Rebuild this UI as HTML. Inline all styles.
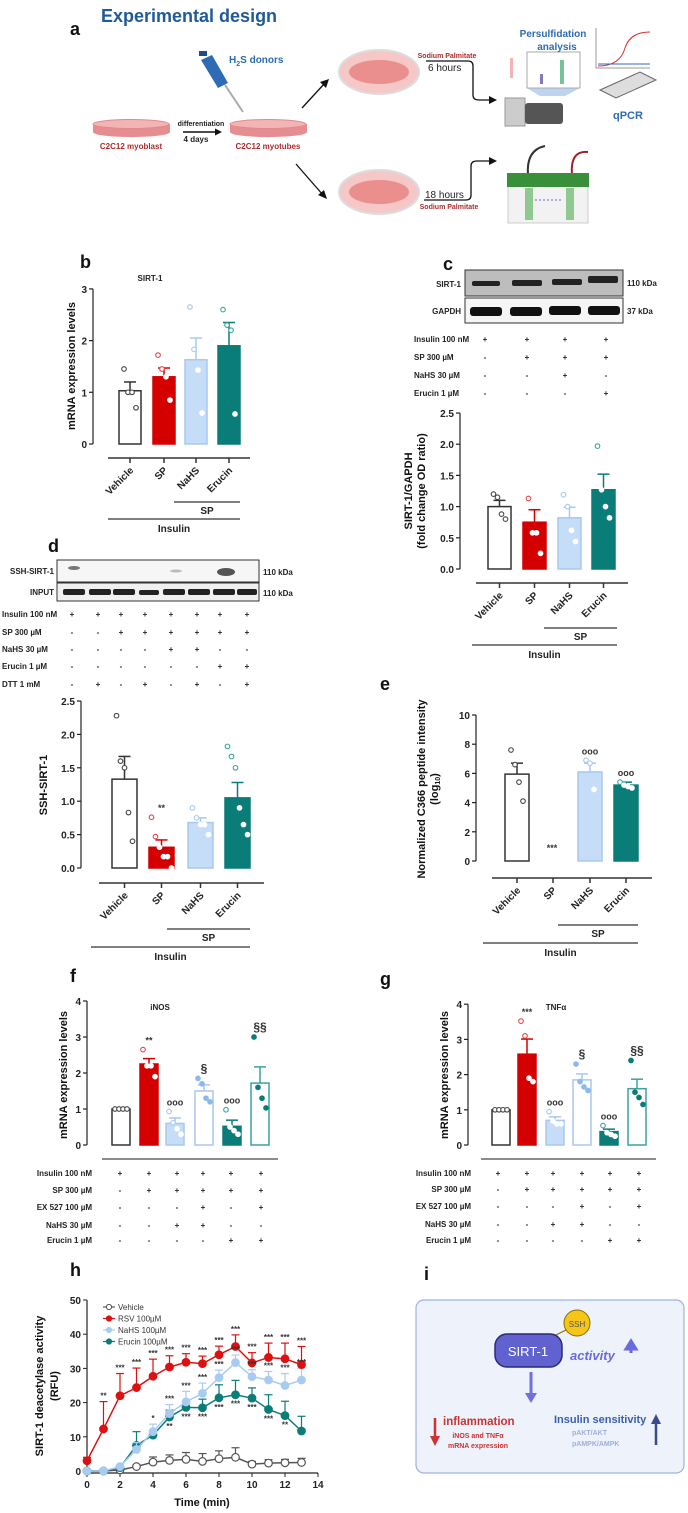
<!DOCTYPE html>
<html><head><meta charset="utf-8"><style>
html,body{margin:0;padding:0;background:#fff;}
svg{display:block;font-family:"Liberation Sans",Arial,sans-serif;}
.t{font-size:8px;fill:#222;font-weight:bold;}
.tk{font-size:10px;font-weight:bold;fill:#222;}
.cat{font-size:10px;font-weight:bold;fill:#222;}
.lab{font-size:18px;font-weight:bold;fill:#111;}
.yt{font-size:11px;font-weight:bold;fill:#111;}
</style></head><body>
<svg id="fig" width="688" height="1513" viewBox="0 0 688 1513" xmlns="http://www.w3.org/2000/svg">
<!-- Panel a -->
<g>
<text x="70" y="35" class="lab">a</text>
<text x="101" y="22" font-size="18" font-weight="bold" fill="#1f5a9a">Experimental design</text>
<g>
<path d="M93 124 L93 132 A38 5 0 0 0 170 132 L170 124 Z" fill="#e68d92"/><ellipse cx="131" cy="124" rx="38" ry="4.5" fill="#f3b4b6" stroke="#e08a8e"/>
<text x="131" y="149" font-size="8" font-weight="bold" fill="#b22a2a" text-anchor="middle">C2C12 myoblast</text></g>
<text x="201" y="126" font-size="7" font-weight="bold" fill="#222" text-anchor="middle">differentiation</text>
<line x1="183" y1="132" x2="218" y2="132" stroke="#111" stroke-width="1.5"/><path d="M222 132 L215 128.5 L215 135.5 Z" fill="#111"/>
<text x="196" y="142" font-size="8" font-weight="bold" fill="#222" text-anchor="middle">4 days</text>
<g>
<path d="M230 124 L230 132 A38 5 0 0 0 307 132 L307 124 Z" fill="#e68d92"/><ellipse cx="268" cy="124" rx="38" ry="4.5" fill="#f3b4b6" stroke="#e08a8e"/>
<text x="268" y="149" font-size="8" font-weight="bold" fill="#b22a2a" text-anchor="middle">C2C12 myotubes</text></g>
<g>
<line x1="225" y1="85" x2="243" y2="112" stroke="#aaa" stroke-width="2"/>
<path d="M201 60 L212 55 L228 83 L218 88 Z" fill="#2d6bb5"/><rect x="199" y="51" width="8" height="5" fill="#1d4c8a"/></g>
<text x="229" y="63" font-size="10" font-weight="bold" fill="#2d6bb5">H<tspan font-size="7" dy="3">2</tspan><tspan dy="-3">S donors</tspan></text>
<line x1="302" y1="108" x2="325" y2="83" stroke="#111" stroke-width="1.3"/><path d="M329 79 L320 82 L326 88 Z" fill="#111"/>
<line x1="296" y1="164" x2="323" y2="195" stroke="#111" stroke-width="1.3"/><path d="M327 199 L318 195 L324 190 Z" fill="#111"/>
<g><ellipse cx="379" cy="72" rx="40" ry="22" fill="#f6c7c7" stroke="#ddd" stroke-width="2"/><ellipse cx="379" cy="72" rx="30" ry="12" fill="#e88080" opacity="0.8"/></g>
<text x="447" y="58" font-size="7" font-weight="bold" fill="#b22a2a" text-anchor="middle">Sodium Palmitate</text>
<text x="428" y="71" font-size="10" fill="#222">6 hours</text>
<path d="M426 61 L468 61 Q473 61 473 66 L473 95 Q473 100 479 100 L490 100" fill="none" stroke="#111" stroke-width="1.3"/><path d="M497 100 L489 96 L489 104 Z" fill="#111"/>
<g><rect x="505" y="98" width="20" height="28" fill="#ccc" stroke="#999"/><rect x="525" y="103" width="38" height="21" fill="#555" rx="3"/><rect x="510" y="58" width="3" height="20" fill="#f3b4b6"/><path d="M527 88 L580 88 L565 96 L540 96 Z" fill="#bcd4ee"/></g>
<g><rect x="527" y="52" width="53" height="36" fill="#fff" stroke="#aaa"/><rect x="540" y="74" width="3" height="10" fill="#8877bb"/><rect x="560" y="60" width="4" height="24" fill="#77c29b"/></g>
<text x="553" y="37" font-size="10" font-weight="bold" fill="#2d6bb5" text-anchor="middle">Persulfidation</text>
<text x="557" y="50" font-size="10" font-weight="bold" fill="#2d6bb5" text-anchor="middle">analysis</text>
<g><path d="M596 28 L596 68 L650 68" fill="none" stroke="#999"/><path d="M598 66 Q620 66 625 48 Q630 32 650 32" fill="none" stroke="#d33"/><line x1="598" y1="64" x2="650" y2="64" stroke="#36c"/></g>
<g><path d="M600 90 L640 72 L656 80 L616 98 Z" fill="#ddd" stroke="#666"/></g>
<text x="613" y="119" font-size="11" font-weight="bold" fill="#2d6bb5">qPCR</text>
<g><ellipse cx="379" cy="192" rx="40" ry="22" fill="#f6c7c7" stroke="#ddd" stroke-width="2"/><ellipse cx="379" cy="192" rx="30" ry="12" fill="#e88080" opacity="0.8"/></g>
<text x="425" y="198" font-size="10" fill="#222">18 hours</text>
<text x="449" y="209" font-size="7" font-weight="bold" fill="#b22a2a" text-anchor="middle">Sodium Palmitate</text>
<path d="M424 200 L466 200 Q471 200 471 195 L471 166 Q471 161 477 161 L490 161" fill="none" stroke="#111" stroke-width="1.3"/><path d="M497 161 L489 157 L489 165 Z" fill="#111"/>
<g><path d="M528 175 Q526 150 545 146" fill="none" stroke="#333" stroke-width="2"/><path d="M572 175 Q570 150 588 152" fill="none" stroke="#a0202a" stroke-width="2"/><rect x="508" y="186" width="80" height="37" fill="#f2f2f2" stroke="#ccc"/><rect x="507" y="173" width="82" height="14" fill="#3a8f3a"/><rect x="525" y="188" width="8" height="32" fill="#8fc98f"/><rect x="566" y="188" width="8" height="32" fill="#8fc98f"/><line x1="535" y1="200" x2="562" y2="200" stroke="#66c" stroke-dasharray="2,2"/></g>
</g>

<!-- panel labels and titles -->
<text x="80" y="268" class="lab">b</text>
<text x="150" y="281" font-size="8" font-weight="bold" fill="#222" text-anchor="middle">SIRT-1</text>
<text transform="translate(75,366) rotate(-90)" class="yt" text-anchor="middle">mRNA expression levels</text>

<text x="443" y="270" class="lab">c</text>
<g>
<rect x="465" y="270" width="158" height="26" fill="#bdbdbd" stroke="#333"/>
<rect x="465" y="298" width="158" height="25" fill="#f5f5f5" stroke="#333"/>
<rect x="472" y="281" width="28" height="5" rx="2" fill="#222"/><rect x="512" y="280" width="30" height="6" rx="2" fill="#222"/><rect x="552" y="279" width="30" height="6" rx="2" fill="#222"/><rect x="588" y="276" width="30" height="7" rx="2" fill="#222"/>
<rect x="470" y="307" width="32" height="9" rx="3" fill="#111"/><rect x="510" y="307" width="32" height="9" rx="3" fill="#111"/><rect x="549" y="306" width="32" height="9" rx="3" fill="#111"/><rect x="588" y="306" width="32" height="9" rx="3" fill="#111"/>
<text x="461" y="287" class="t" text-anchor="end" font-size="9">SIRT-1</text><text x="461" y="314" class="t" text-anchor="end" font-size="9">GAPDH</text>
<text x="627" y="286" class="t" font-size="9">110 kDa</text><text x="627" y="314" class="t" font-size="9">37 kDa</text></g>
<text transform="translate(412,491) rotate(-90)" class="yt" text-anchor="middle">SIRT-1/GAPDH</text>
<text transform="translate(425,491) rotate(-90)" class="yt" text-anchor="middle">(fold change OD ratio)</text>

<text x="48" y="552" class="lab">d</text>
<g>
<rect x="57" y="560" width="202" height="22" fill="#f6f6f6" stroke="#333"/>
<rect x="57" y="583" width="202" height="18" fill="#f0f0f0" stroke="#333"/>
<ellipse cx="74" cy="568" rx="6" ry="2" fill="#777"/><ellipse cx="176" cy="571" rx="6" ry="1.5" fill="#bbb"/><ellipse cx="226" cy="572" rx="9" ry="4" fill="#555"/>
<g fill="#222"><rect x="63" y="589" width="22" height="6" rx="2"/><rect x="89" y="589" width="22" height="6" rx="2"/><rect x="113" y="589" width="22" height="6" rx="2"/><rect x="139" y="590" width="20" height="5" rx="2"/><rect x="163" y="589" width="22" height="6" rx="2"/><rect x="188" y="589" width="22" height="6" rx="2"/><rect x="213" y="589" width="22" height="6" rx="2"/><rect x="237" y="589" width="20" height="6" rx="2"/></g>
<text x="54" y="574" class="t" text-anchor="end">SSH-SIRT-1</text><text x="54" y="595" class="t" text-anchor="end">INPUT</text>
<text x="263" y="575" class="t" font-size="9">110 kDa</text><text x="263" y="596" class="t" font-size="9">110 kDa</text></g>
<text transform="translate(47,785) rotate(-90)" class="yt" font-size="12" text-anchor="middle">SSH-SIRT-1</text>

<text x="380" y="690" class="lab">e</text>
<text transform="translate(425,789) rotate(-90)" class="yt" text-anchor="middle">Normalized C366 peptide intensity</text>
<text transform="translate(438,789) rotate(-90)" class="yt" text-anchor="middle">(log<tspan font-size="7" dy="2">10</tspan><tspan dy="-2">)</tspan></text>

<text x="70" y="982" class="lab">f</text>
<text x="160" y="1010" font-size="8" font-weight="bold" fill="#222" text-anchor="middle">iNOS</text>
<text transform="translate(67,1075) rotate(-90)" class="yt" font-size="10" text-anchor="middle">mRNA expression levels</text>

<text x="380" y="985" class="lab">g</text>
<text x="556" y="1010" font-size="8" font-weight="bold" fill="#222" text-anchor="middle">TNFα</text>
<text transform="translate(448,1075) rotate(-90)" class="yt" font-size="10" text-anchor="middle">mRNA expression levels</text>

<text x="70" y="1276" class="lab">h</text>
<text transform="translate(43,1386) rotate(-90)" class="yt" font-size="12" text-anchor="middle">SIRT-1 deacetylase activity</text>
<text transform="translate(58,1386) rotate(-90)" class="yt" font-size="12" text-anchor="middle">(RFU)</text>
<text x="202" y="1506" class="yt" font-size="12" text-anchor="middle">Time (min)</text>

<!-- Panel i -->
<g>
<text x="424" y="1280" class="lab">i</text>
<rect x="416" y="1300" width="268" height="173" rx="8" fill="#edf2fb" stroke="#9fb3df" stroke-width="1.2"/>
<line x1="552" y1="1337" x2="570" y2="1328" stroke="#8a7000" stroke-width="1.2"/>
<rect x="495" y="1334" width="67" height="33" rx="12" fill="#6161d0" stroke="#2a2a7a" stroke-width="1.5"/>
<text x="528" y="1356" font-size="13" fill="#fff" text-anchor="middle">SIRT-1</text>
<circle cx="577" cy="1323" r="13" fill="#f5c518" stroke="#8a7000"/>
<text x="577" y="1327" font-size="8" fill="#555" text-anchor="middle">SSH</text>
<text x="570" y="1360" font-size="13" font-weight="bold" font-style="italic" fill="#6a6ae0">activity</text>
<path d="M631 1347 L631 1353 M626 1349 L631 1341 L636 1349 Z" stroke="#6a6ae0" stroke-width="3" fill="#6a6ae0"/>
<path d="M531 1372 L531 1395" stroke="#7070dd" stroke-width="3"/><path d="M525 1393 L531 1403 L537 1393 Z" fill="#7070dd"/>
<path d="M435 1418 L435 1438" stroke="#cc3333" stroke-width="2.5"/><path d="M430 1436 L435 1446 L440 1436 Z" fill="#cc3333"/>
<text x="443" y="1425" font-size="11.5" font-weight="bold" fill="#cc3333">inflammation</text>
<text x="478" y="1438" font-size="7" font-weight="bold" fill="#cc3333" text-anchor="middle">iNOS and TNFα</text>
<text x="478" y="1448" font-size="7" font-weight="bold" fill="#cc3333" text-anchor="middle">mRNA expression</text>
<text x="554" y="1423" font-size="11" font-weight="bold" fill="#3a5fb0">Insulin sensitivity</text>
<text x="572" y="1435" font-size="7" font-weight="bold" fill="#9db0dc">pAKT/AKT</text>
<text x="572" y="1446" font-size="7" font-weight="bold" fill="#9db0dc">pAMPK/AMPK</text>
<path d="M656 1445 L656 1422" stroke="#3a4a8a" stroke-width="2.5"/><path d="M651 1424 L656 1414 L661 1424 Z" fill="#3a4a8a"/>
</g>
</svg>
<script>
// ---- data arrays ----
const barCats = ["Vehicle","SP","NaHS","Erucin"];
const bVals = [1.03,1.3,1.63,1.9];
const bErr = [0.17,0.17,0.42,0.45];
const bDots = [[1.45,1.0,1.0,0.7],[1.72,1.45,1.3,0.85],[2.65,1.83,1.43,0.6],[2.6,2.3,2.2,0.58]];
const cVals = [1.0,0.75,0.82,1.27];
const cErr = [0.1,0.2,0.17,0.25];
const cDots = [[1.2,1.15,0.88,0.8],[1.13,0.58,0.58,0.25],[1.19,1.0,0.62,0.44],[1.97,1.27,1.0,0.82]];
const dVals = [1.33,0.31,0.68,1.05];
const dErr = [0.34,0.11,0.07,0.23];
const dDots = [[2.28,1.6,1.5,0.83,0.4],[0.76,0.47,0.31,0.17,0.17,0],[0.9,0.75,0.65,0.65,0.5],[1.82,1.67,1.5,0.9,0.65,0.5]];
const dNotes = ["","**","",""];
const eVals = [5.95,0,6.1,5.2];
const eErr = [0.75,0,0.6,0.2];
const eDots = [[7.6,6.6,5.4,4.1],[],[6.9,6.7,4.9],[5.4,5.2,5.1,5.0]];
const eNotes = ["","","ooo","ooo"];
const fVals = [1,2.25,0.6,1.5,0.52,1.72];
const fErr = [0,0.15,0.15,0.17,0.17,0.45];
const fDots = [[1,1,1,1],[2.65,2.2,2.2,1.9],[0.93,0.62,0.45,0.3],[1.85,1.7,1.3,1.2],[0.98,0.5,0.4,0.3],[3.0,1.6,1.3,1.03]];
const fNotes = ["","**","ooo","§","ooo","§§"];
const gVals = [1,2.58,0.7,1.85,0.38,1.6];
const gErr = [0,0.43,0.1,0.17,0.07,0.27];
const gDots = [[1,1,1,1],[3.52,3.1,1.9,1.8],[0.95,0.68,0.6,0.6],[2.3,1.8,1.65,1.55],[0.55,0.35,0.3,0.25],[2.4,1.5,1.35,1.15]];
const gNotes = ["","***","ooo","§","ooo","§§"];
const cTableRows = ["Insulin 100 nM","SP 300 µM","NaHS 30 µM","Erucin 1 µM"];
const cTable = [["+","+","+","+"],["-","+","+","+"],["-","-","+","-"],["-","-","-","+"]];
const dTableRows = ["Insulin 100 nM","SP 300 µM","NaHS 30 µM","Erucin 1 µM","DTT 1 mM"];
const dTable = [["+","+","+","+","+","+","+","+"],["-","-","+","+","+","+","+","+"],["-","-","-","-","+","+","-","-"],["-","-","-","-","-","-","+","+"],["-","+","-","+","-","+","-","+"]];
const fgTableRows = ["Insulin 100 nM","SP 300 µM","EX 527 100 µM","NaHS 30 µM","Erucin 1 µM"];
const fgTable = [["+","+","+","+","+","+"],["-","+","+","+","+","+"],["-","-","-","+","-","+"],["-","-","+","+","-","-"],["-","-","-","-","+","+"]];
const hTime = [0,1,2,3,4,5,6,7,8,9,10,11,12,13];
const hSeriesNames = ["Vehicle","RSV 100µM","NaHS 100µM","Erucin 100µM"];
const hVehicle = [0,0,0.3,1.3,2.6,3.1,3.4,2.8,3.6,4.0,2.0,2.3,2.4,2.5];
const hVehicleErr = [0,0,0.3,0.5,1.5,1.6,2,2.3,2.3,2.8,0.8,1,1,1.2];
const hRSV = [3,12.3,22,24.4,27.7,30.4,31.8,31.4,34,36.4,31.6,33.2,32.8,31.1];
const hRSVErr = [1,8,6.5,5.7,5,3.3,2.5,2.2,2.5,3.4,3,4.2,4.6,5.3];
const hNaHS = [0,0,1.3,6.3,11.5,16.8,20.2,22.7,27.3,31.7,27.6,26.6,25,26.6];
const hNaHSErr = [0,0,0.5,2,2.2,2.6,3.1,3,2.2,2.2,2,2.5,3.5,3.5];
const hErucin = [0,0,1,7.5,10.5,15.8,18.6,18.5,21.4,22.3,21.3,18,16.2,11.7];
const hErucinErr = [0,0,0.5,4,1,2,2,2.5,3.8,4.2,3,4.3,4.2,4.3];
const hXTicks = [0,2,4,6,8,10,12,14];
const hYTicks = [0,10,20,30,40,50];

// ---- drawing ----
const NS='http://www.w3.org/2000/svg';
const svg=document.getElementById('fig');
function mk(tag,attrs,parent){const e=document.createElementNS(NS,tag);for(const k in attrs)e.setAttribute(k,attrs[k]);(parent||svg).appendChild(e);return e;}

const ST={
 veh:{fill:'#fff',stroke:'#333',dot:'#444',open:true},
 sp:{fill:'#d40000',stroke:'#d40000',dot:'#fff',open:false,odot:'#e84444'},
 nahs:{fill:'#c6ddf8',stroke:'#a8c8f0',dot:'#fff',open:false,odot:'#a8c8f0'},
 eru:{fill:'#0b7d78',stroke:'#0b7d78',dot:'#fff',open:false,odot:'#3aa3a0'},
 exn:{fill:'#fff',stroke:'#a8c8f0',dot:'#8cb8ec',open:true},
 exe:{fill:'#fff',stroke:'#3aa3a0',dot:'#0b7d78',open:true}
};

function barChart(name,cfg,vals,errs,dots,notes){
 const g=mk('g',{});
 
 
 const Y=v=>cfg.y0-v*cfg.ppu;
 const ax=mk('line',{x1:cfg.ax,y1:cfg.y0,x2:cfg.ax,y2:Y(cfg.max),stroke:'#222','stroke-width':1.2},g);
 
 
 for(let v=0;v<=cfg.max+1e-9;v+=cfg.step){
  mk('line',{x1:cfg.ax-4,y1:Y(v),x2:cfg.ax,y2:Y(v),stroke:'#222','stroke-width':1.2},g);
  const t=mk('text',{x:cfg.ax-6,y:Y(v)+4,'text-anchor':'end',class:'tk','font-size':cfg.fs||11},g);
  t.textContent=v.toFixed(cfg.dec||0);
  
  
 }
 vals.forEach((v,i)=>{
  const s=ST[cfg.styles[i]];const x=cfg.xs[i],w=cfg.w;const cx=x+w/2;
  const eTop=Y(v+errs[i]);
  if(errs[i]>0){
   mk('line',{x1:cx,y1:Y(v),x2:cx,y2:eTop,stroke:s.stroke,'stroke-width':1.5},g);
   mk('line',{x1:cx-6,y1:eTop,x2:cx+6,y2:eTop,stroke:s.stroke,'stroke-width':1.5},g);
  }
  if(v>0){
   const r=mk('rect',{x:x,y:Y(v),width:w,height:v*cfg.ppu,fill:s.fill,stroke:s.stroke,'stroke-width':1.5},g);
   
   
  }
  (dots[i]||[]).forEach((d,j)=>{
   const n=dots[i].length;const dx=(j-(n-1)/2)*5;
   const above=d>v;
   const col=s.open?s.dot:(above?s.odot:'#fff');
   const isOpen = s.open ? (cfg.styles[i]==='veh') : above;
   const c=mk('circle',{cx:cx+dx*0.8,cy:Y(d),r:2.3,fill:isOpen?'#fff':col,stroke:col,'stroke-width':1.1},g);
   
   
  });
  if(notes&&notes[i]){
   const topVal=Math.max(v+errs[i],...(dots[i].length?dots[i]:[0]));
   const nt=mk('text',{x:cx,y:(v===0?Y(0)-12:Y(topVal)-6),'text-anchor':'middle','font-size':notes[i].startsWith('§')?12:9,'font-weight':'bold',fill:'#333'},g);
   nt.textContent=notes[i];
   
   
  }
 });
 if(cfg.catLine){
  const L=cfg.catLine;
  mk('line',{x1:L.x1,y1:L.y,x2:L.x2,y2:L.y,stroke:'#333','stroke-width':1.5},g);
  barCats.forEach((c,i)=>{
   const cx=cfg.xs[i]+cfg.w/2;
   mk('line',{x1:cx,y1:L.y,x2:cx,y2:L.y+5,stroke:'#333','stroke-width':1.5},g);
   const t=mk('text',{transform:`translate(${cx+4},${L.y+13}) rotate(-45)`,'text-anchor':'end',class:'cat'},g);
   t.textContent=c;
   
   
  });
  mk('line',{x1:L.sp1,y1:L.spY,x2:L.sp2,y2:L.spY,stroke:'#333','stroke-width':1.2},g);
  const sp=mk('text',{x:(L.sp1+L.sp2)/2,y:L.spY+12,'text-anchor':'middle',class:'cat','font-size':11},g);
  sp.textContent='SP';
  
  
  mk('line',{x1:L.in1,y1:L.inY,x2:L.sp2,y2:L.inY,stroke:'#333','stroke-width':1.2},g);
  const ins=mk('text',{x:(L.in1+L.sp2)/2,y:L.inY+13,'text-anchor':'middle',class:'cat','font-size':12},g);
  ins.textContent='Insulin';
  
  
 }
 return g;
}

function table(name,rows,cells,labelX,anchor,rowYs,colXs){
 const g=mk('g',{});
 
 
 rows.forEach((r,i)=>{
  const t=mk('text',{x:labelX,y:rowYs[i]+3,'text-anchor':anchor,class:'t'},g);
  t.textContent=r;
  
  
  cells[i].forEach((c,j)=>{
   const s=mk('text',{x:colXs[j],y:rowYs[i]+3,'text-anchor':'middle',class:'t','font-size':c==='+'?10:8},g);
   s.textContent=c;
   
   
  });
 });
}

barChart('panel-b-chart',{ax:93,y0:444,ppu:51.7,max:3,step:1,xs:[119,153,185,218],w:22,styles:['veh','sp','nahs','eru'],
 catLine:{y:458,x1:108,x2:250,sp1:174,sp2:240,spY:502,in1:108,inY:519}},bVals,bErr,bDots,null);
barChart('panel-c-chart',{ax:460,y0:569,ppu:62.4,max:2.5,step:0.5,dec:1,xs:[488,523,558,592],w:23,styles:['veh','sp','nahs','eru'],
 catLine:{y:583,x1:476,x2:628,sp1:544,sp2:617,spY:628,in1:472,inY:645}},cVals,cErr,cDots,null);
barChart('panel-d-chart',{ax:81,y0:868,ppu:66.8,max:2.5,step:0.5,dec:1,xs:[112,149,188,225],w:25,styles:['veh','sp','nahs','eru'],
 catLine:{y:883,x1:99,x2:264,sp1:167,sp2:250,spY:929,in1:91,inY:947}},dVals,dErr,dDots,dNotes);
barChart('panel-e-chart',{ax:476,y0:861,ppu:14.6,max:10,step:2,xs:[505,541,578,614],w:24,styles:['veh','sp','nahs','eru'],
 catLine:{y:878,x1:492,x2:652,sp1:558,sp2:638,spY:925,in1:483,inY:943}},eVals,eErr,eDots,eNotes);
barChart('panel-f-chart',{ax:87,y0:1145,ppu:36,max:4,step:1,fs:9,xs:[112,140,166,195,223,251],w:18,styles:['veh','sp','nahs','exn','eru','exe']},fVals,fErr,fDots,fNotes);
barChart('panel-g-chart',{ax:468,y0:1145,ppu:35.2,max:4,step:1,fs:9,xs:[492,518,546,573,600,628],w:18,styles:['veh','sp','nahs','exn','eru','exe']},gVals,gErr,gDots,gNotes);
// SP asterisks in e
const eAst=mk('text',{x:552,y:851,'text-anchor':'middle','font-size':9,'font-weight':'bold',fill:'#333'});
eAst.textContent='***';


mk('line',{x1:102,y1:1159,x2:278,y2:1159,stroke:'#666','stroke-width':1.5});
mk('line',{x1:481,y1:1159,x2:656,y2:1159,stroke:'#666','stroke-width':1.5});

table('panel-c-table',cTableRows,cTable,414,'start',[339,357,375,393],[485,527,565,606]);
table('panel-d-table',dTableRows,dTable,2,'start',[614,632,649,666,684],[72,98,121,145,171,197,220,247]);
table('panel-f-table',fgTableRows,fgTable,92,'end',[1173,1190,1207,1225,1240],[120,149,177,203,231,261]);
table('panel-g-table',fgTableRows,fgTable,471,'end',[1173,1189,1206,1224,1240],[498,527,553,582,610,639]);

// ---- panel h line chart ----
(function(){
 const g=mk('g',{});
 
 
 const X=t=>87+t*16.5, Y=v=>1471-v*3.42;
 mk('line',{x1:X(0),y1:Y(0)+2,x2:X(0),y2:Y(50),stroke:'#222','stroke-width':1.2},g);
 mk('line',{x1:X(0),y1:Y(0)+2,x2:X(14),y2:Y(0)+2,stroke:'#222','stroke-width':1.2},g);
 hYTicks.forEach(v=>{
  mk('line',{x1:X(0)-4,y1:Y(v),x2:X(0),y2:Y(v),stroke:'#222'},g);
  const t=mk('text',{x:X(0)-6,y:Y(v)+4,'text-anchor':'end',class:'tk','font-size':11},g);
  t.textContent=v;
  
  
 });
 hXTicks.forEach(v=>{
  mk('line',{x1:X(v),y1:Y(0)+2,x2:X(v),y2:Y(0)+6,stroke:'#222'},g);
  const t=mk('text',{x:X(v),y:Y(0)+17,'text-anchor':'middle',class:'tk','font-size':11},g);
  t.textContent=v;
  
  
 });
 const series=[[hVehicle,hVehicleErr,'#555',true],[hErucin,hErucinErr,'#0b7d78',false],[hNaHS,hNaHSErr,'#a9cbf2',false],[hRSV,hRSVErr,'#dd1111',false]];
 series.forEach(([vals,errs,col,open],si)=>{
  const sg=mk('g',{},g);
  
  
  vals.forEach((v,i)=>{
   if(errs[i]>0){
    mk('line',{x1:X(hTime[i]),y1:Y(v),x2:X(hTime[i]),y2:Y(v+errs[i]),stroke:col,'stroke-width':1.2},sg);
    mk('line',{x1:X(hTime[i])-4,y1:Y(v+errs[i]),x2:X(hTime[i])+4,y2:Y(v+errs[i]),stroke:col,'stroke-width':1.2},sg);
   }
  });
  const d=vals.map((v,i)=>(i?'L':'M')+X(hTime[i])+' '+Y(v)).join(' ');
  const p=mk('path',{d:d,fill:'none',stroke:col,'stroke-width':1.5},sg);
  
  
  vals.forEach((v,i)=>{
   const c=mk('circle',{cx:X(hTime[i]),cy:Y(v),r:3.8,fill:open?'#fff':col,stroke:col,'stroke-width':1.2},sg);
   
   
  });
 });
 const rsvStars=["","**","***","***","***","***","***","***","***","***","***","***","***","***"];
 rsvStars.forEach((s,i)=>{ if(!s)return;
  const t=mk('text',{x:X(hTime[i]),y:Y(hRSV[i]+hRSVErr[i])-3,'text-anchor':'middle','font-size':8,'font-weight':'bold',fill:'#333'},g);
  t.textContent=s;
  
  
 });
 const nahsStars=["","","","","*","***","***","***","***","***","***","***","***","***"];
 nahsStars.forEach((s,i)=>{ if(!s)return;
  const t=mk('text',{x:X(hTime[i]),y:Y(hNaHS[i]+hNaHSErr[i])-3,'text-anchor':'middle','font-size':8,'font-weight':'bold',fill:'#333'},g);
  t.textContent=s;
  
  
 });
 const eruStars=["","","","","","**","***","***","***","***","***","***","**",""];
 eruStars.forEach((s,i)=>{ if(!s)return;
  const t=mk('text',{x:X(hTime[i]),y:Y(hErucin[i])+12,'text-anchor':'middle','font-size':8,'font-weight':'bold',fill:'#333'},g);
  t.textContent=s;
  
  
 });
 const legCols=['#555','#dd1111','#a9cbf2','#0b7d78'];
 hSeriesNames.forEach((n,i)=>{
  const y=1307+i*11.5;
  mk('line',{x1:103,y1:y,x2:115,y2:y,stroke:legCols[i],'stroke-width':1.2},g);
  mk('circle',{cx:109,cy:y,r:2.6,fill:i?legCols[i]:'#fff',stroke:legCols[i]},g);
  const t=mk('text',{x:118,y:y+3,'font-size':8,fill:'#333'},g);
  t.textContent=n;
  
  
 });
})();
</script>
</body></html>
